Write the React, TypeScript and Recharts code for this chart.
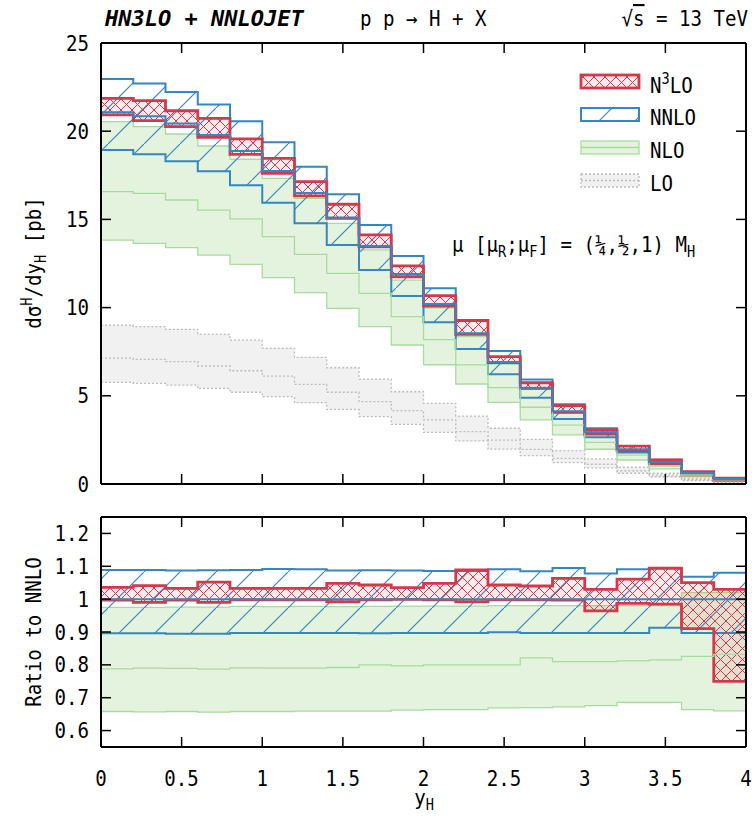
import React from 'react';
import { ComposedChart, Area, Line, XAxis, YAxis, ReferenceLine } from 'recharts';

const RED = '#d6384b';
const BLUE = '#3487c0';
const GREEN_LINE = '#a8dc9e';
const GREEN_FILL = '#e4f3de';
const GREY_LINE = '#bdbdbd';
const GREY_FILL = '#f1f1f1';
const FONT = '"DejaVu Sans Mono", monospace';

// bin edges in y_H (last edge closes the final step)
const binEdges = [0, 0.2, 0.4, 0.6, 0.8, 1.0, 1.2, 1.4, 1.6, 1.8, 2.0, 2.2, 2.4, 2.6, 2.8, 3.0, 3.2, 3.4, 3.6, 3.8, 4.0];
const xTicks = [0, 0.5, 1, 1.5, 2, 2.5, 3, 3.5, 4];
const yTicksTop = [0, 5, 10, 15, 20, 25];
const yTicksRatio = [0.6, 0.7, 0.8, 0.9, 1, 1.1, 1.2];

// dsigma/dy_H [pb], one value per bin
const n3loHi = [21.86, 21.73, 21.16, 20.73, 19.56, 18.46, 17.14, 15.86, 14.12, 12.36, 10.68, 9.27, 7.22, 5.74, 4.44, 3.06, 2.15, 1.36, 0.70, 0.33];
const n3loLo = [20.92, 20.60, 20.26, 19.65, 18.69, 17.61, 16.33, 15.06, 13.45, 11.75, 10.08, 8.48, 6.88, 5.42, 4.06, 2.83, 1.89, 1.14, 0.52, 0.20];
const nnloHi = [22.96, 22.71, 22.22, 21.52, 20.56, 19.37, 17.99, 16.42, 14.68, 12.93, 11.09, 9.30, 7.54, 5.93, 4.52, 3.16, 2.15, 1.37, 0.66, 0.31];
const nnloMid = [21.08, 20.85, 20.44, 19.78, 18.88, 17.74, 16.50, 15.11, 13.49, 11.90, 10.21, 8.55, 6.91, 5.46, 4.12, 2.94, 1.97, 1.25, 0.62, 0.29];
const nnloLo = [18.93, 18.69, 18.29, 17.73, 16.93, 15.95, 14.78, 13.55, 12.13, 10.66, 9.17, 7.65, 6.22, 4.89, 3.68, 2.65, 1.78, 1.14, 0.56, 0.26];
const nloHi = [20.54, 20.26, 19.84, 19.16, 18.41, 17.33, 16.20, 14.78, 13.27, 11.56, 9.98, 8.35, 6.80, 5.37, 4.00, 2.88, 1.93, 1.22, 0.63, 0.30];
const nloMid = [16.57, 16.48, 16.10, 15.53, 15.03, 14.02, 13.02, 11.94, 10.81, 9.49, 8.18, 6.75, 5.46, 4.35, 3.34, 2.36, 1.64, 1.02, 0.51, 0.24];
const nloLo = [13.83, 13.64, 13.40, 12.98, 12.45, 11.70, 10.85, 9.96, 8.92, 7.88, 6.76, 5.67, 4.63, 3.63, 2.78, 1.97, 1.36, 0.86, 0.41, 0.19];
const loHi = [9.01, 8.92, 8.77, 8.48, 8.16, 7.69, 7.18, 6.59, 5.95, 5.23, 4.57, 3.85, 3.16, 2.53, 1.89, 1.42, 0.95, 0.61, 0.32, 0.14];
const loMid = [7.14, 7.07, 6.94, 6.69, 6.42, 6.12, 5.65, 5.20, 4.67, 4.16, 3.63, 2.97, 2.49, 1.96, 1.45, 1.12, 0.75, 0.50, 0.25, 0.11];
const loLo = [5.76, 5.71, 5.61, 5.42, 5.20, 4.95, 4.61, 4.23, 3.82, 3.38, 2.93, 2.44, 1.98, 1.61, 1.21, 0.90, 0.61, 0.41, 0.19, 0.08];

// ratio to NNLO central value
const rN3loHi = [1.036, 1.041, 1.033, 1.052, 1.033, 1.033, 1.033, 1.048, 1.043, 1.035, 1.048, 1.089, 1.043, 1.040, 1.063, 1.030, 1.061, 1.094, 1.050, 1.030];
const rN3loLo = [0.997, 0.990, 0.997, 0.990, 0.998, 0.998, 0.998, 0.992, 0.998, 0.999, 0.998, 0.992, 0.998, 0.998, 0.997, 0.964, 0.987, 0.985, 0.910, 0.750];
const rNnloHi = [1.089, 1.089, 1.087, 1.088, 1.089, 1.092, 1.091, 1.087, 1.088, 1.087, 1.086, 1.086, 1.091, 1.085, 1.095, 1.078, 1.091, 1.095, 1.068, 1.080];
const rNnloLo = [0.896, 0.896, 0.895, 0.895, 0.897, 0.897, 0.897, 0.897, 0.896, 0.897, 0.897, 0.897, 0.899, 0.897, 0.897, 0.897, 0.897, 0.913, 0.897, 0.897];
const rNloHi = [0.975, 0.975, 0.976, 0.976, 0.978, 0.977, 0.978, 0.977, 0.978, 0.979, 0.979, 0.979, 0.980, 0.980, 0.980, 0.980, 0.980, 0.980, 1.020, 1.020];
const rNloMid = [0.788, 0.790, 0.789, 0.787, 0.791, 0.790, 0.790, 0.792, 0.800, 0.797, 0.800, 0.800, 0.800, 0.821, 0.810, 0.810, 0.812, 0.815, 0.826, 0.832];
const rNloLo = [0.658, 0.657, 0.658, 0.656, 0.658, 0.658, 0.659, 0.659, 0.659, 0.662, 0.664, 0.664, 0.669, 0.670, 0.672, 0.676, 0.686, 0.686, 0.664, 0.660];

const pick = (arr: number[], i: number) => arr[Math.min(i, arr.length - 1)];

const topData = binEdges.map((x, i) => ({
  x,
  lo: [pick(loLo, i), pick(loHi, i)],
  loMid: pick(loMid, i),
  nlo: [pick(nloLo, i), pick(nloHi, i)],
  nloMid: pick(nloMid, i),
  nnlo: [pick(nnloLo, i), pick(nnloHi, i)],
  nnloMid: pick(nnloMid, i),
  n3lo: [pick(n3loLo, i), pick(n3loHi, i)],
}));

const ratioData = binEdges.map((x, i) => ({
  x,
  nlo: [pick(rNloLo, i), pick(rNloHi, i)],
  nloMid: pick(rNloMid, i),
  nnlo: [pick(rNnloLo, i), pick(rNnloHi, i)],
  n3lo: [pick(rN3loLo, i), pick(rN3loHi, i)],
}));

const TICK = 10;

function Txt({ x, y, anchor = 'start', size = 21, sx = 0.91, rotate = 0, weight = 'normal', italic = false, children }: any) {
  return (
    <text
      transform={`translate(${x},${y}) rotate(${rotate}) scale(${sx},1)`}
      textAnchor={anchor}
      fontFamily={FONT}
      fontSize={size}
      fontWeight={weight}
      fontStyle={italic ? 'italic' : 'normal'}
      fill="#000"
    >
      {children}
    </text>
  );
}

const bottomTick = (withLabel: boolean) => (p: any) => (
  <g>
    <line x1={p.x} x2={p.x} y1={p.y} y2={p.y - TICK} stroke="#000" strokeWidth={1.5} />
    {withLabel && (
      <Txt x={p.x} y={p.y + 39} anchor="middle">
        {String(p.payload.value)}
      </Txt>
    )}
  </g>
);
const topTick = (p: any) => <line x1={p.x} x2={p.x} y1={p.y} y2={p.y + TICK} stroke="#000" strokeWidth={1.5} />;
const leftTick = (p: any) => (
  <g>
    <line x1={p.x} x2={p.x + TICK} y1={p.y} y2={p.y} stroke="#000" strokeWidth={1.5} />
    <Txt x={p.x - 12} y={p.y + 7.5} anchor="end">
      {String(p.payload.value)}
    </Txt>
  </g>
);
const rightTick = (p: any) => <line x1={p.x} x2={p.x - TICK} y1={p.y} y2={p.y} stroke="#000" strokeWidth={1.5} />;

const frame = { stroke: '#000', strokeWidth: 2 };

function Patterns({ id }: { id: string }) {
  return (
    <defs>
      <pattern id={`${id}-cross`} patternUnits="userSpaceOnUse" width={11} height={11}>
        <rect width={11} height={11} fill="rgba(214,56,75,0.10)" />
        <path d="M0,0 L11,11 M11,0 L0,11" stroke={RED} strokeWidth={1} />
      </pattern>
      <pattern id={`${id}-diag`} patternUnits="userSpaceOnUse" width={36} height={36}>
        <path d="M-2,38 L38,-2" stroke={BLUE} strokeWidth={1.2} />
      </pattern>
    </defs>
  );
}

function Axes({ domain, yTicks, labels, bottomHeight }: any) {
  return [
    <XAxis key="xb" xAxisId="b" type="number" dataKey="x" domain={[0, 4]} ticks={xTicks} interval={0}
      orientation="bottom" height={bottomHeight} tickSize={0} tickMargin={0} axisLine={frame}
      tick={bottomTick(labels)} allowDataOverflow />,
    <XAxis key="xt" xAxisId="t" type="number" dataKey="x" domain={[0, 4]} ticks={xTicks} interval={0}
      orientation="top" height={1} tickSize={0} tickMargin={0} axisLine={frame} tick={topTick} allowDataOverflow />,
    <YAxis key="yl" yAxisId="l" type="number" domain={domain} ticks={yTicks} interval={0}
      orientation="left" width={101} tickSize={0} tickMargin={0} axisLine={frame} tick={leftTick} allowDataOverflow />,
    <YAxis key="yr" yAxisId="r" type="number" domain={domain} ticks={yTicks} interval={0}
      orientation="right" width={1} tickSize={0} tickMargin={0} axisLine={frame} tick={rightTick} allowDataOverflow />,
  ];
}

const common = { xAxisId: 'b', yAxisId: 'l', type: 'stepAfter' as const, isAnimationActive: false, dataKey: '' };

function TopPanel() {
  return (
    <ComposedChart width={752} height={500} data={topData} margin={{ top: 42, right: 5, bottom: 15, left: 0 }}>
      <Patterns id="top" />
      {Axes({ domain: [0, 25], yTicks: yTicksTop, labels: false, bottomHeight: 1 })}
      <Area {...common} dataKey="lo" fill={GREY_FILL} fillOpacity={1} stroke={GREY_LINE} strokeWidth={1.3} strokeDasharray="2 2" />
      <Line {...common} dataKey="loMid" stroke={GREY_LINE} strokeWidth={1.3} strokeDasharray="2 2" dot={false} />
      <Area {...common} dataKey="nlo" fill={GREEN_FILL} fillOpacity={1} stroke={GREEN_LINE} strokeWidth={1.3} />
      <Line {...common} dataKey="nloMid" stroke={GREEN_LINE} strokeWidth={1.3} dot={false} />
      <Area {...common} dataKey="nnlo" fill="url(#top-diag)" fillOpacity={1} stroke={BLUE} strokeWidth={2} />
      <Line {...common} dataKey="nnloMid" stroke={BLUE} strokeWidth={2} dot={false} />
      <Area {...common} dataKey="n3lo" fill="url(#top-cross)" fillOpacity={1} stroke={RED} strokeWidth={2.8} />
    </ComposedChart>
  );
}

function RatioPanel() {
  return (
    <ComposedChart width={752} height={327} data={ratioData} margin={{ top: 16, right: 5, bottom: 20, left: 0 }}>
      <Patterns id="rat" />
      {Axes({ domain: [0.55, 1.25], yTicks: yTicksRatio, labels: true, bottomHeight: 60 })}
      <Area {...common} dataKey="nlo" fill={GREEN_FILL} fillOpacity={1} stroke={GREEN_LINE} strokeWidth={1.3} />
      <Line {...common} dataKey="nloMid" stroke={GREEN_LINE} strokeWidth={1.3} dot={false} />
      <Area {...common} dataKey="nnlo" fill="url(#rat-diag)" fillOpacity={1} stroke={BLUE} strokeWidth={2} />
      <ReferenceLine xAxisId="b" yAxisId="l" y={1} stroke={BLUE} strokeWidth={2} />
      <Area {...common} dataKey="n3lo" fill="url(#rat-cross)" fillOpacity={1} stroke={RED} strokeWidth={2.8} />
    </ComposedChart>
  );
}

function Overlay() {
  const sub = { fontSize: 15, dy: 5 };
  return (
    <svg width={752} height={827} style={{ position: 'absolute', left: 0, top: 0, pointerEvents: 'none' }}>
      <Patterns id="lg" />
      {/* header */}
      <Txt x={105} y={26} size={22} sx={1} weight="bold" italic>HN3LO + NNLOJET</Txt>
      <Txt x={360} y={26}>p p → H + X</Txt>
      <Txt x={748} y={26} anchor="end">
        √<tspan style={{ textDecoration: 'overline' }}>s</tspan> = 13 TeV
      </Txt>
      {/* axis titles */}
      <Txt x={41} y={263} anchor="middle" rotate={-90}>
        dσ<tspan fontSize={15} dy={-9}>H</tspan><tspan dy={9}>/dy</tspan><tspan {...sub}>H</tspan><tspan dy={-5}> [pb]</tspan>
      </Txt>
      <Txt x={41} y={632} anchor="middle" rotate={-90}>Ratio to NNLO</Txt>
      <Txt x={424} y={805} anchor="middle">
        y<tspan {...sub}>H</tspan>
      </Txt>
      {/* scale annotation */}
      <Txt x={452} y={252}>
        μ [μ<tspan {...sub}>R</tspan><tspan dy={-5}>;μ</tspan><tspan {...sub}>F</tspan><tspan dy={-5}>] = (¼,½,1) M</tspan><tspan {...sub}>H</tspan>
      </Txt>
      {/* legend */}
      <rect x={581} y={75} width={58} height={13} fill="url(#lg-cross)" stroke={RED} strokeWidth={2.8} />
      <Txt x={650} y={93}>N<tspan fontSize={15} dy={-9}>3</tspan><tspan dy={9}>LO</tspan></Txt>
      <rect x={581} y={108} width={58} height={13} fill="url(#lg-diag)" stroke={BLUE} strokeWidth={2} />
      <Txt x={650} y={125}>NNLO</Txt>
      <rect x={581} y={141} width={58} height={13} fill={GREEN_FILL} stroke={GREEN_LINE} strokeWidth={1.3} />
      <line x1={581} x2={639} y1={147.5} y2={147.5} stroke={GREEN_LINE} strokeWidth={1.3} />
      <Txt x={650} y={158}>NLO</Txt>
      <rect x={581} y={174} width={58} height={13} fill={GREY_FILL} stroke={GREY_LINE} strokeWidth={1.3} strokeDasharray="2 2" />
      <line x1={581} x2={639} y1={180.5} y2={180.5} stroke={GREY_LINE} strokeWidth={1.3} strokeDasharray="2 2" />
      <Txt x={650} y={191}>LO</Txt>
    </svg>
  );
}

export default function App() {
  return (
    <div style={{ position: 'absolute', left: 0, top: 0, width: 752, height: 827, background: '#fff' }}>
      <div style={{ position: 'absolute', left: 0, top: 0 }}>
        <TopPanel />
      </div>
      <div style={{ position: 'absolute', left: 0, top: 500 }}>
        <RatioPanel />
      </div>
      <Overlay />
    </div>
  );
}
